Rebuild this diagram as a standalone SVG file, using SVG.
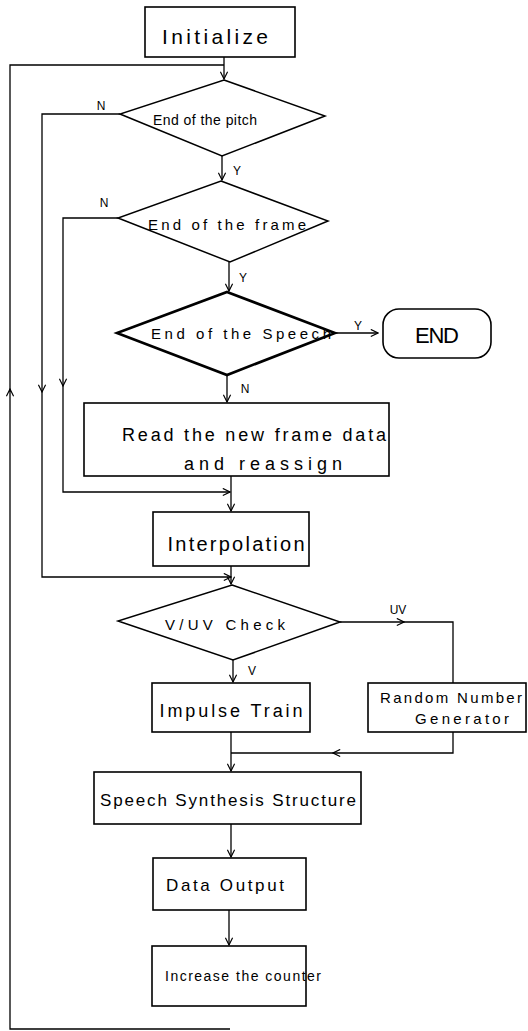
<svg xmlns="http://www.w3.org/2000/svg" width="528" height="1031" viewBox="0 0 528 1031">
<defs>
<marker id="arr" viewBox="0 0 10 10" refX="9" refY="5" markerWidth="9" markerHeight="9" orient="auto" markerUnits="userSpaceOnUse">
<path d="M1 1 L9 5 L1 9" fill="none" stroke="#000" stroke-width="1.3"/>
</marker>
<style>
.box{fill:#fff;stroke:#000;stroke-width:1.6}
.dia{fill:#fff;stroke:#000;stroke-width:1.5}
.thick{stroke-width:2.6}
.ln{fill:none;stroke:#000;stroke-width:1.3}
.ar{marker-end:url(#arr)}
.t{font-family:"Liberation Sans",Arial,sans-serif;fill:#000;text-anchor:middle}
.lb{font-family:"Liberation Sans",Arial,sans-serif;fill:#000;font-size:12px;text-anchor:middle}
</style>
</defs>
<rect width="528" height="1031" fill="#fff"/>
<g id="connectors">
<path class="ln ar" d="M224 57 V79"/>
<path class="ln ar" d="M230 1029 H10 V389"/>
<path class="ln" d="M10 392 V65 H224"/>
<path class="ln ar" d="M222 156 V180"/>
<path class="ln ar" d="M120 114 H42 V392"/>
<path class="ln ar" d="M42 390 V577 H231"/>
<path class="ln ar" d="M229 262 V291"/>
<path class="ln ar" d="M118 218 H63 V386"/>
<path class="ln ar" d="M63 384 V492 H230"/>
<path class="ln ar" d="M335 333 H378"/>
<path class="ln ar" d="M227 375 V402"/>
<path class="ln ar" d="M231 476 V511"/>
<path class="ln ar" d="M231 566 V584"/>
<path class="ln ar" d="M340 622 H404"/>
<path class="ln" d="M402 622 H453 V683"/>
<path class="ln ar" d="M233 660 V682"/>
<path class="ln ar" d="M231 732 V771"/>
<path class="ln ar" d="M453 732 V753 H333"/>
<path class="ln" d="M335 753 H231"/>
<path class="ln ar" d="M231 824 V857"/>
<path class="ln ar" d="M229 910 V945"/>
<text class="lb" x="101" y="110">N</text>
<text class="lb" x="237" y="175">Y</text>
<text class="lb" x="104" y="207">N</text>
<text class="lb" x="243" y="282">Y</text>
<text class="lb" x="358" y="330">Y</text>
<text class="lb" x="245" y="393">N</text>
<text class="lb" x="398" y="614" font-size="11">UV</text>
<text class="lb" x="252" y="675" font-size="11">V</text>
</g>
<g id="initialize">
<rect class="box" x="145" y="7" width="150" height="50"/>
<text class="t" x="215" y="44" font-size="21" textLength="106" lengthAdjust="spacing">Initialize</text>
</g>
<g id="end-pitch">
<polygon class="dia" points="224,80 325,116 222,156 120,114"/>
<text class="t" x="205" y="125" font-size="14" textLength="104" lengthAdjust="spacing">End of the pitch</text>
</g>
<g id="end-frame">
<polygon class="dia" points="221,181 328,221 230,262 118,218"/>
<text class="t" x="227" y="230" font-size="15" textLength="158" lengthAdjust="spacing">End of the frame</text>
</g>
<g id="end-speech">
<polygon class="dia thick" points="227,292 335,333 227,375 117,333"/>
<text class="t" x="241" y="339" font-size="15" textLength="180" lengthAdjust="spacing">End of the Speech</text>
</g>
<g id="end">
<rect class="box" x="383" y="309" width="108" height="49" rx="16" ry="16"/>
<text class="t" x="437" y="343" font-size="22" textLength="44" lengthAdjust="spacing">END</text>
</g>
<g id="read-frame">
<rect class="box" x="84" y="403" width="305" height="73"/>
<text class="t" x="254" y="441" font-size="18" textLength="264" lengthAdjust="spacing">Read the new frame data</text>
<text class="t" x="263" y="470" font-size="18" textLength="158" lengthAdjust="spacing">and reassign</text>
</g>
<g id="interpolation">
<rect class="box" x="153" y="512" width="156" height="54" stroke-width="2"/>
<text class="t" x="236" y="551" font-size="20" textLength="137" lengthAdjust="spacing">Interpolation</text>
</g>
<g id="vuv-check">
<polygon class="dia" points="232,585 340,622 233,660 118,621"/>
<text class="t" x="225" y="630" font-size="15" textLength="120" lengthAdjust="spacing">V/UV  Check</text>
</g>
<g id="impulse-train">
<rect class="box" x="152" y="683" width="158" height="49"/>
<text class="t" x="231" y="717" font-size="18" textLength="143" lengthAdjust="spacing">Impulse Train</text>
</g>
<g id="random-gen">
<rect class="box" x="368" y="683" width="158" height="49"/>
<text class="t" x="451" y="703" font-size="15" textLength="142" lengthAdjust="spacing">Random Number</text>
<text class="t" x="462" y="724" font-size="15" textLength="94" lengthAdjust="spacing">Generator</text>
</g>
<g id="speech-synthesis">
<rect class="box" x="94" y="772" width="267" height="52"/>
<text class="t" x="228" y="806" font-size="17" textLength="256" lengthAdjust="spacing">Speech Synthesis Structure</text>
</g>
<g id="data-output">
<rect class="box" x="153" y="858" width="153" height="52" stroke-width="1.8"/>
<text class="t" x="225" y="891" font-size="17" textLength="118" lengthAdjust="spacing">Data Output</text>
</g>
<g id="increase-counter">
<rect class="box" x="152" y="946" width="154" height="60" stroke-width="1.8"/>
<text class="t" x="243" y="981" font-size="14" textLength="156" lengthAdjust="spacing">Increase the counter</text>
</g>
</svg>
